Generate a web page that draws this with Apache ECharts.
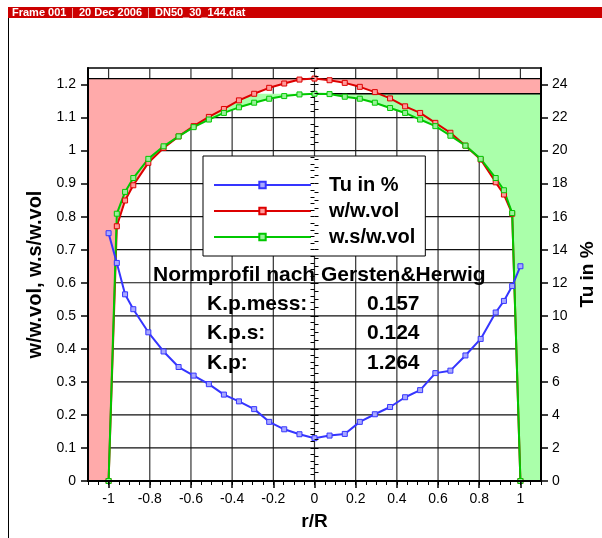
<!DOCTYPE html>
<html><head><meta charset="utf-8">
<script src="https://cdn.jsdelivr.net/npm/echarts@6/dist/echarts.min.js"></script>
<style>html,body{margin:0;padding:0;background:#fff}#c{width:602px;height:538px}</style>
</head><body><div id="c"></div>
<script>
// ---- data ----
const rPos = [-1, -0.96, -0.92, -0.88, -0.807, -0.733, -0.66, -0.587, -0.513, -0.44, -0.367, -0.293, -0.22, -0.147, -0.073, 0,
  0.073, 0.147, 0.22, 0.293, 0.367, 0.44, 0.513, 0.587, 0.66, 0.733, 0.807, 0.88, 0.92, 0.96, 1];
const tuPercent = [15.0, 13.2, 11.3, 10.4, 9.0, 7.84, 6.9, 6.38, 5.86, 5.23, 4.82, 4.35, 3.58, 3.13, 2.83, 2.59,
  2.75, 2.85, 3.58, 4.04, 4.48, 5.07, 5.5, 6.53, 6.68, 7.6, 8.6, 10.2, 10.9, 11.8, 13.0];
const wRatio = [0, 0.771, 0.849, 0.895, 0.963, 1.008, 1.043, 1.074, 1.102, 1.126, 1.152, 1.172, 1.190, 1.203, 1.215, 1.218,
  1.213, 1.205, 1.193, 1.177, 1.158, 1.134, 1.114, 1.084, 1.054, 1.015, 0.973, 0.904, 0.867, 0.809, 0];
const wsRatio = [0, 0.809, 0.875, 0.917, 0.975, 1.013, 1.043, 1.071, 1.094, 1.114, 1.131, 1.145, 1.157, 1.165, 1.170, 1.172,
  1.171, 1.163, 1.157, 1.145, 1.129, 1.114, 1.094, 1.074, 1.045, 1.015, 0.975, 0.917, 0.880, 0.811, 0];
const seriesNames = ['Tu in %', 'w/w.vol', 'w.s/w.vol'];
const xTicks = [-1, -0.8, -0.6, -0.4, -0.2, 0, 0.2, 0.4, 0.6, 0.8, 1];
const yLeftTicks = [0, 0.1, 0.2, 0.3, 0.4, 0.5, 0.6, 0.7, 0.8, 0.9, 1, 1.1, 1.2];
const yRightTicks = [0, 2, 4, 6, 8, 10, 12, 14, 16, 18, 20, 22, 24];
const gridYLines = [0.1, 0.2, 0.3, 0.4, 0.5, 0.6, 0.7, 0.8, 0.9, 1, 1.1];
const headerParts = ['Frame 001', '20 Dec 2006', 'DN50_30_144.dat'];
const noteTitle = 'Normprofil nach Gersten&Herwig';
const kpLabels = ['K.p.mess:', 'K.p.s:', 'K.p:'];
const kpValues = ['0.157', '0.124', '1.264'];

const X_MIN = -1.1, X_MAX = 1.1, YL_MAX = 1.25, YR_MAX = 25;
function range(a, b, s) { const o = []; for (let v = a; v <= b + 1e-9; v += s) o.push(+v.toFixed(4)); return o; }
const xMinor = range(X_MIN, X_MAX, 0.05);
const yLeftMinor = range(0, YL_MAX, 0.02);
const yRightMinor = range(0, YR_MAX, 0.5);

const FONT = 'Liberation Sans, Arial, Helvetica, sans-serif';
const C_BLUE = '#3535ff', C_RED = '#dd0000', C_GREEN = '#00c800';
const F_PINK = '#ffaaaa', F_GREEN = '#aaffaa';

const pinkTop = Math.max(...wRatio);
const greenTop = Math.max(...wsRatio);

function pairs(xs, ys) { return xs.map((x, i) => [x, ys[i]]); }

function sidePoly(api, ys, top, side) {
  const pts = [];
  if (side === 'left') {
    pts.push(api.coord([X_MIN, top]), api.coord([X_MIN, 0]));
    rPos.forEach((x, i) => { if (x <= 0) pts.push(api.coord([x, ys[i]])); });
    pts.push(api.coord([0, top]));
  } else {
    pts.push(api.coord([0, top]));
    rPos.forEach((x, i) => { if (x >= 0) pts.push(api.coord([x, ys[i]])); });
    pts.push(api.coord([X_MAX, 0]), api.coord([X_MAX, top]));
  }
  return pts;
}

const chart = echarts.init(document.getElementById('c'), null, { renderer: 'canvas' });

const axisCommon = {
  axisLine: { show: true, onZero: false, lineStyle: { color: '#000', width: 2 } },
  splitLine: { show: false },
  z: 10
};
const lblStyle = { color: '#000', fontSize: 14, fontFamily: FONT };
const nameStyle = { color: '#000', fontSize: 19, fontWeight: 'bold', fontFamily: FONT };

const option = {
  animation: false,
  backgroundColor: '#fff',
  grid: { left: 88, right: 61, top: 68, bottom: 57, outerBoundsMode: 'none', containLabel: false,
    show: true, borderColor: '#000', borderWidth: 1.5, backgroundColor: 'transparent' },
  legend: {
    data: seriesNames,
    orient: 'vertical',
    left: 203, top: 156,
    backgroundColor: '#fff', borderColor: '#000', borderWidth: 1,
    padding: [14, 10, 4, 10],
    itemWidth: 97, itemHeight: 8, itemGap: -4,
    textStyle: { color: '#000', fontSize: 20, fontWeight: 'bold', fontFamily: FONT, lineHeight: 20, padding: [0, 0, 10, 13] },
    selectedMode: false
  },
  xAxis: [
    Object.assign({}, axisCommon, {
      type: 'value', min: X_MIN, max: X_MAX, position: 'bottom',
      axisTick: { show: true, length: 7, customValues: xTicks, lineStyle: { color: '#000', width: 1.5 } },
      axisLabel: { customValues: xTicks, margin: 11, ...lblStyle },
      name: 'r/R', nameLocation: 'middle', nameGap: 31, nameTextStyle: nameStyle
    }),
    {
      type: 'value', min: X_MIN, max: X_MAX, position: 'bottom', z: 10,
      axisLine: { show: false }, splitLine: { show: false },
      axisTick: { show: true, length: 4, customValues: xMinor, lineStyle: { color: '#000', width: 1 } },
      axisLabel: { show: false }
    }
  ],
  yAxis: [
    Object.assign({}, axisCommon, {
      type: 'value', min: 0, max: YL_MAX, position: 'left',
      axisTick: { show: true, length: 7, customValues: yLeftTicks, lineStyle: { color: '#000', width: 1.5 } },
      axisLabel: { customValues: yLeftTicks, margin: 12, ...lblStyle },
      name: 'w/w.vol, w.s/w.vol', nameLocation: 'middle', nameGap: 43, nameRotate: 90,
      nameTextStyle: Object.assign({}, nameStyle, { fontSize: 20 })
    }),
    Object.assign({}, axisCommon, {
      type: 'value', min: 0, max: YR_MAX, position: 'right',
      axisTick: { show: true, length: 7, customValues: yRightTicks, lineStyle: { color: '#000', width: 1.5 } },
      axisLabel: { customValues: yRightTicks, margin: 11, ...lblStyle },
      name: 'Tu in %', nameLocation: 'middle', nameGap: 30, nameRotate: 90, nameTextStyle: nameStyle
    }),
    {
      type: 'value', min: 0, max: YL_MAX, position: 'left', z: 10,
      axisLine: { show: false }, splitLine: { show: false },
      axisTick: { show: true, length: 4, customValues: yLeftMinor, lineStyle: { color: '#000', width: 1 } },
      axisLabel: { show: false }
    },
    {
      type: 'value', min: 0, max: YR_MAX, position: 'right', z: 10,
      axisLine: { show: false }, splitLine: { show: false },
      axisTick: { show: true, length: 4, customValues: yRightMinor, lineStyle: { color: '#000', width: 1 } },
      axisLabel: { show: false }
    }
  ],
  series: [
    {
      name: 'gridlines', type: 'custom', z: 1, silent: true, xAxisIndex: 0, yAxisIndex: 0,
      data: [[0, 0]],
      renderItem: function (params, api) {
        const children = [];
        xTicks.forEach(gx => {
          const a = api.coord([gx, 0]), b = api.coord([gx, YL_MAX]);
          children.push({ type: 'line', shape: { x1: a[0], y1: a[1], x2: b[0], y2: b[1] }, style: { stroke: '#333', lineWidth: 1.2 } });
        });
        gridYLines.forEach(gy => {
          const a = api.coord([X_MIN, gy]), b = api.coord([X_MAX, gy]);
          children.push({ type: 'line', shape: { x1: a[0], y1: a[1], x2: b[0], y2: b[1] }, style: { stroke: '#111', lineWidth: 1.2 } });
        });
        return { type: 'group', children };
      }
    },
    {
      name: 'fills', type: 'custom', z: 2, silent: true, xAxisIndex: 0, yAxisIndex: 0,
      data: [[0, 0]],
      renderItem: function (params, api) {
        const gl = sidePoly(api, wsRatio, greenTop, 'left');
        const pl = sidePoly(api, wRatio, pinkTop, 'left');
        const pr = sidePoly(api, wRatio, pinkTop, 'right');
        const gr = sidePoly(api, wsRatio, greenTop, 'right');
        const t1a = api.coord([X_MIN, pinkTop]), t1b = api.coord([X_MAX, pinkTop]);
        const t2a = api.coord([0, greenTop]), t2b = api.coord([X_MAX, greenTop]);
        return {
          type: 'group', children: [
            { type: 'polygon', shape: { points: gl }, style: { fill: F_GREEN } },
            { type: 'polygon', shape: { points: pl }, style: { fill: F_PINK } },
            { type: 'polygon', shape: { points: pr }, style: { fill: F_PINK } },
            { type: 'polygon', shape: { points: gr }, style: { fill: F_GREEN } },
            { type: 'line', shape: { x1: t1a[0], y1: t1a[1], x2: t1b[0], y2: t1b[1] }, style: { stroke: '#000', lineWidth: 1.3 } },
            { type: 'line', shape: { x1: t2a[0], y1: t2a[1], x2: t2b[0], y2: t2b[1] }, style: { stroke: '#000', lineWidth: 1.3 } }
          ]
        };
      }
    },
    {
      name: seriesNames[0], type: 'line', xAxisIndex: 0, yAxisIndex: 1, z: 5,
      data: pairs(rPos, tuPercent),
      symbol: 'rect', symbolSize: 5,
      lineStyle: { color: C_BLUE, width: 2 },
      itemStyle: { color: '#a8a8ff', borderColor: C_BLUE, borderWidth: 1 }
    },
    {
      name: seriesNames[1], type: 'line', xAxisIndex: 0, yAxisIndex: 0, z: 4,
      data: pairs(rPos, wRatio),
      symbol: 'rect', symbolSize: 5,
      lineStyle: { color: C_RED, width: 2 },
      itemStyle: { color: '#ff9a9a', borderColor: C_RED, borderWidth: 1 }
    },
    {
      name: seriesNames[2], type: 'line', xAxisIndex: 0, yAxisIndex: 0, z: 4,
      data: pairs(rPos, wsRatio),
      symbol: 'rect', symbolSize: 5,
      lineStyle: { color: C_GREEN, width: 2 },
      itemStyle: { color: '#9af09a', borderColor: C_GREEN, borderWidth: 1 }
    }
  ],
  graphic: [
    { type: 'rect', left: 8, top: 7, shape: { width: 594, height: 11 }, style: { fill: '#cc0000' }, z: 20 },
    { type: 'line', shape: { x1: 72.5, y1: 8, x2: 72.5, y2: 18 }, style: { stroke: '#f0a0a0', lineWidth: 1 }, z: 21 },
    { type: 'line', shape: { x1: 148.5, y1: 8, x2: 148.5, y2: 18 }, style: { stroke: '#f0a0a0', lineWidth: 1 }, z: 21 },
    { type: 'text', x: 12, y: 13, style: { text: headerParts[0], fill: '#fff', font: 'bold 11px ' + FONT, verticalAlign: 'middle' }, z: 21 },
    { type: 'text', x: 79, y: 13, style: { text: headerParts[1], fill: '#fff', font: 'bold 11px ' + FONT, verticalAlign: 'middle' }, z: 21 },
    { type: 'text', x: 155, y: 13, style: { text: headerParts[2], fill: '#fff', font: 'bold 11px ' + FONT, verticalAlign: 'middle' }, z: 21 },
    { type: 'line', shape: { x1: 8.5, y1: 18, x2: 8.5, y2: 538 }, style: { stroke: '#000', lineWidth: 1 }, z: 21 },
    { type: 'text', x: 153, y: 275, style: { text: noteTitle, fill: '#000', font: 'bold 21px ' + FONT, verticalAlign: 'middle' }, z: 30 },
    ...kpLabels.map((t, i) => ({ type: 'text', x: 207, y: 304 + i * 29.5, style: { text: t, fill: '#000', font: 'bold 21px ' + FONT, verticalAlign: 'middle' }, z: 30 })),
    ...kpValues.map((t, i) => ({ type: 'text', x: 367, y: 304 + i * 29.5, style: { text: t, fill: '#000', font: 'bold 21px ' + FONT, verticalAlign: 'middle' }, z: 30 }))
  ]
};
chart.setOption(option);
</script>
</body></html>
